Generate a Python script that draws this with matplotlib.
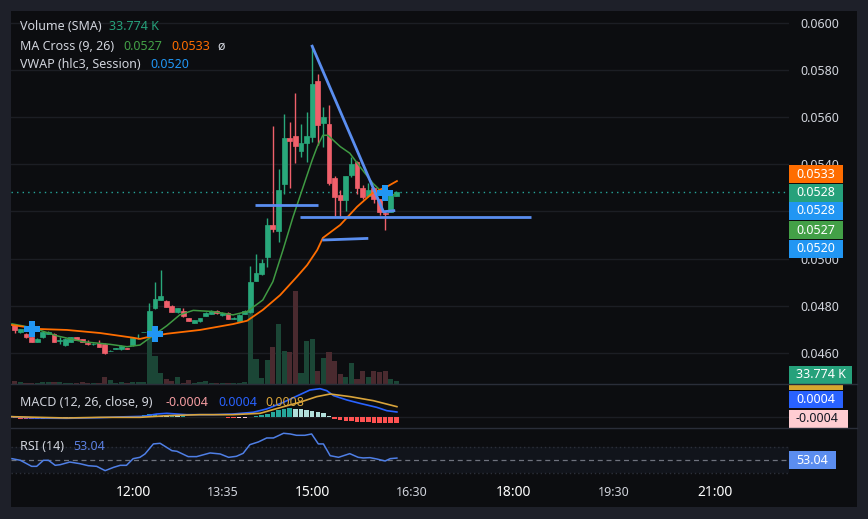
import matplotlib
matplotlib.use("Agg")
import matplotlib.pyplot as plt
from matplotlib.patches import Rectangle
from matplotlib.transforms import blended_transform_factory
import numpy as np

plt.rcParams['font.family'] = ['Noto Sans', 'DejaVu Sans']

# ---------------- data ----------------
opens = [0.04719, 0.04688, 0.04682, 0.04668, 0.04648, 0.04667, 0.04681, 0.04682, 0.04653, 0.04634,
         0.04648, 0.04667, 0.04659, 0.04642, 0.04638, 0.04642, 0.04639, 0.04608, 0.04619, 0.04617,
         0.04622, 0.04634, 0.04664, 0.04688, 0.04677, 0.04790, 0.04825, 0.04821, 0.04800, 0.04773,
         0.04780, 0.04748, 0.04728, 0.04737, 0.04759, 0.04767, 0.04779, 0.04760, 0.04770, 0.04746,
         0.04737, 0.04766, 0.04773, 0.04907, 0.04935, 0.05008, 0.05143, 0.05119, 0.05317, 0.05513,
         0.05520, 0.05458, 0.05489, 0.05517, 0.05753, 0.05575, 0.05571, 0.05341, 0.05270, 0.05249,
         0.05355, 0.05411, 0.05301, 0.05266, 0.05301, 0.05252, 0.05193, 0.05199, 0.05267]
highs = [0.04721, 0.04703, 0.04684, 0.04670, 0.04662, 0.04693, 0.04692, 0.04684, 0.04667, 0.04662,
         0.04669, 0.04669, 0.04661, 0.04654, 0.04642, 0.04654, 0.04641, 0.04612, 0.04623, 0.04634,
         0.04623, 0.04665, 0.04680, 0.04690, 0.04812, 0.04900, 0.04952, 0.04823, 0.04802, 0.04792,
         0.04791, 0.04750, 0.04742, 0.04750, 0.04773, 0.04781, 0.04781, 0.04772, 0.04772, 0.04752,
         0.04765, 0.04781, 0.04969, 0.05019, 0.04998, 0.05171, 0.05562, 0.05380, 0.05613, 0.05579,
         0.05703, 0.05571, 0.05622, 0.05906, 0.05783, 0.05643, 0.05651, 0.05350, 0.05291, 0.05352,
         0.05430, 0.05413, 0.05312, 0.05322, 0.05303, 0.05254, 0.05199, 0.05272, 0.05286]
lows = [0.04684, 0.04686, 0.04665, 0.04646, 0.04646, 0.04665, 0.04679, 0.04646, 0.04640, 0.04630,
        0.04646, 0.04655, 0.04646, 0.04635, 0.04636, 0.04625, 0.04597, 0.04607, 0.04618, 0.04615,
        0.04618, 0.04632, 0.04660, 0.04688, 0.04675, 0.04788, 0.04823, 0.04795, 0.04772, 0.04771,
        0.04755, 0.04734, 0.04726, 0.04733, 0.04757, 0.04765, 0.04767, 0.04758, 0.04744, 0.04744,
        0.04735, 0.04764, 0.04771, 0.04905, 0.04933, 0.04964, 0.05111, 0.05072, 0.05274, 0.05301,
        0.05404, 0.05432, 0.05411, 0.05496, 0.05482, 0.05472, 0.05312, 0.05181, 0.05181, 0.05204,
        0.05348, 0.05273, 0.05254, 0.05260, 0.05235, 0.05185, 0.05122, 0.05197, 0.05265]
closes = [0.04698, 0.04701, 0.04667, 0.04648, 0.04660, 0.04691, 0.04690, 0.04648, 0.04657, 0.04660,
          0.04667, 0.04657, 0.04648, 0.04637, 0.04640, 0.04627, 0.04599, 0.04610, 0.04621, 0.04632,
          0.04619, 0.04663, 0.04666, 0.04690, 0.04779, 0.04828, 0.04842, 0.04797, 0.04774, 0.04790,
          0.04757, 0.04736, 0.04740, 0.04748, 0.04771, 0.04779, 0.04769, 0.04770, 0.04746, 0.04750,
          0.04763, 0.04779, 0.04901, 0.04941, 0.04983, 0.05143, 0.05126, 0.05291, 0.05513, 0.05500,
          0.05479, 0.05489, 0.05520, 0.05740, 0.05568, 0.05599, 0.05320, 0.05260, 0.05249, 0.05350,
          0.05401, 0.05298, 0.05260, 0.05291, 0.05252, 0.05199, 0.05188, 0.05270, 0.05284]
volumes_k = [34, 23, 11, 11, 11, 23, 23, 23, 23, 11,
             11, 11, 23, 11, 11, 11, 79, 45, 11, 23,
             11, 23, 23, 23, 552, 315, 124, 56, 34, 79,
             11, 45, 11, 23, 34, 11, 11, 11, 11, 11,
             11, 23, 811, 282, 68, 270, 417, 676, 372, 360,
             1047, 124, 484, 507, 146, 293, 360, 259, 113, 79,
             236, 56, 146, 79, 146, 135, 146, 56, 33.774]

ma9_idx = [-0.5, 3.2, 7.5, 12.2, 17.0, 20.0, 22.3, 24.1, 27.1, 29.4, 31.8, 35.3, 38.9, 41.4, 44.2,
           46.0, 47.8, 49.6, 51.4, 53.0, 53.9, 54.9, 55.8, 58.0, 59.7, 61.5, 63.8, 65.6, 67.8]
ma9_val = [0.04724, 0.04707, 0.04673, 0.04648, 0.04637, 0.04627, 0.04634, 0.04665, 0.04716, 0.04762,
           0.04781, 0.04776, 0.04762, 0.04776, 0.04825, 0.04903, 0.05037, 0.05178, 0.05305, 0.05418,
           0.05475, 0.05523, 0.05523, 0.05475, 0.05447, 0.05390, 0.05320, 0.05279, 0.05270]
ma26_idx = [-0.5, 4.5, 9.3, 15.2, 21.1, 22.3, 24.1, 27.1, 33.0, 38.9, 41.4, 44.2, 47.3, 50.3, 52.1,
            53.9, 54.9, 58.0, 61.0, 63.8, 66.3, 68.1]
ma26_val = [0.04719, 0.04702, 0.04698, 0.04685, 0.04665, 0.04660, 0.04670, 0.04682, 0.04698, 0.04723,
            0.04737, 0.04783, 0.04846, 0.04924, 0.04973, 0.05037, 0.05088, 0.05143, 0.05220, 0.05279,
            0.05305, 0.05329]
cross_idx = [3.15, 25.0, 66.0]
cross_val = [0.04704, 0.04681, 0.05279]

trend_x = [52.9, 65.7, 67.8]
trend_y = [0.05906, 0.05199, 0.05204]
hline1_x = [42.8, 54.1]
hline1_y = [0.05229, 0.05229]
hline2_x = [50.8, 92.0]
hline2_y = [0.05178, 0.05178]
hline3_x = [54.8, 63.0]
hline3_y = [0.05079, 0.05086]

macd_idx = [-0.56, 3.3, 9.2, 15.2, 18.2, 22.9, 25.3, 27.1, 30.6, 35.4, 38.9, 42.5, 44.9, 47.9, 50.8,
            52.6, 54.4, 55.6, 56.8, 59.2, 61.5, 64.5, 66.3, 68.1]
macd_val = [0.5, -0.5, -0.75, -0.25, 0.25, 0.75, 2.5, 3.0, 2.0, 2.0, 2.5, 3.8, 6.3, 11.3, 17.0,
            20.5, 21.5, 20.0, 16.3, 13.0, 10.5, 7.5, 5.0, 4.0]
signal_idx = [-0.56, 9.2, 15.2, 22.3, 27.1, 33.0, 38.9, 43.7, 47.9, 50.8, 53.8, 56.2, 59.8, 63.9, 68.1]
signal_val = [0.5, -0.5, 0.0, 0.0, 1.25, 2.0, 2.0, 3.0, 8.0, 11.3, 15.5, 17.5, 15.5, 12.5, 8.0]
hist_val = [-0.8, -1.0, -1.2, -1.5, -1.5,
            -1.0, -0.8, -0.7, -0.7, -0.6, -0.5, -0.5, -0.5, -0.4,
            0.3, 0.4, 0.5, 0.5, 0.6, 0.6, 0.7, 0.8, 1.0,
            2.0, 2.5, 2.5,
            1.0, 0.8, 0.8, 0.7, 0.7, 0.6, 0.6, 0.5, 0.5, 0.5, 0.4,
            0.2,
            -0.6, -0.7, -0.6, -0.4,
            0.5, 1.0, 1.5,
            2.5, 4.0, 5.5, 6.5, 6.8,
            6.5, 6.0, 5.5, 5.0, 4.0, 3.0,
            1.0,
            -1.5, -2.0, -2.5, -3.0, -3.3, -3.5, -3.8, -4.0, -4.0, -4.2, -4.3, -4.5]

rsi_idx = [-0.5, 1.0, 3.0, 3.9, 5.1, 6.0, 7.2, 8.1, 9.8, 11.6, 13.1, 14.6, 16.1, 17.6, 18.8, 19.9,
           21.1, 22.3, 23.2, 24.7, 25.9, 28.0, 28.9, 30.9, 32.4, 34.8, 36.6, 38.1, 39.5, 40.7, 41.9,
           43.4, 44.9, 46.1, 47.9, 49.1, 50.2, 51.7, 52.9, 54.1, 55.0, 56.2, 57.7, 59.7, 61.2, 62.1,
           63.3, 64.5, 66.0, 66.9, 68.1]
rsi_val = [52.1, 49.5, 40.0, 40.0, 49.5, 49.5, 41.6, 42.6, 46.8, 44.2, 41.0, 40.0, 33.2, 38.4, 41.6,
           41.6, 52.1, 54.2, 59.5, 75.3, 76.3, 64.7, 63.7, 55.3, 55.3, 61.1, 59.5, 54.2, 55.8, 60.5,
           74.2, 78.4, 84.7, 84.7, 92.1, 91.0, 88.9, 88.9, 91.0, 75.3, 75.3, 56.8, 54.2, 60.0, 54.2,
           53.2, 53.7, 51.6, 48.4, 52.1, 53.04]

price_ticks = [0.0460, 0.0480, 0.0500, 0.0520, 0.0540, 0.0560, 0.0580, 0.0600]
time_pos = [21.1, 37.0, 53.0, 70.8, 88.8, 106.8, 124.8]
time_labels = ['12:00', '13:35', '15:00', '16:30', '18:00', '19:30', '21:00']
time_major = [True, False, True, False, True, False, True]

vwap_last = 0.0520
line_label = 0.0528
volume_label = '33.774 K'
macd_last, signal_last, hist_last = 0.0004, 0.0008, -0.0004

# ---------------- styling ----------------
W, H = 868, 519
BG = '#0c0d10'
FRAME = '#1e2029'
UP, DN = '#29a87b', '#f0606b'
VUP, VDN = '#1b4636', '#4a2a2f'
TXT = '#d1d4dc'
GRID = '#1c1e24'
SEP = '#2a2e39'
BLUE_DRAW = '#5a8ef0'

fig = plt.figure(figsize=(W / 100, H / 100), dpi=100)
fig.patch.set_facecolor(FRAME)


def rect(l, t, r, b):
    return [l / W, 1 - b / H, (r - l) / W, (b - t) / H]


# chart background
bgax = fig.add_axes(rect(11, 11, 857, 507))
bgax.set_facecolor(BG)
bgax.set_xticks([])
bgax.set_yticks([])
for s in bgax.spines.values():
    s.set_visible(False)
bgax.set_zorder(-5)

XL = (-0.677, 137.98)
n = len(closes)
x = np.arange(n)


def clean(ax):
    ax.set_facecolor('none')
    for s in ax.spines.values():
        s.set_visible(False)
    ax.set_xlim(*XL)
    ax.set_xticks([])
    ax.tick_params(axis='both', length=0)


# volume axes (bottom layer)
vax = fig.add_axes(rect(11, 11, 789, 384))
clean(vax)
vax.set_yticks([])
vax.set_ylim(0, 4200)
vax.set_zorder(1)

# price axes
pax = fig.add_axes(rect(11, 11, 789, 384))
clean(pax)
pax.set_ylim(0.044690, 0.060496)
pax.set_zorder(2)

# gridlines drawn under volume bars, in price coordinates
gtr = blended_transform_factory(vax.transAxes, pax.transData)
for pt in price_ticks:
    vax.plot([0, 1], [pt, pt], transform=gtr, color=GRID, lw=1, zorder=0)

vcols = [VUP if c >= o else VDN for o, c in zip(opens, closes)]
vax.bar(x, volumes_k, width=0.92, color=vcols, linewidth=0, zorder=1)

# candles
ccols = [UP if c >= o else DN for o, c in zip(opens, closes)]
pax.vlines(x, lows, highs, colors=ccols, lw=1, zorder=3)
bodies = [c - o for o, c in zip(opens, closes)]
pax.bar(x, bodies, bottom=opens, width=0.86, color=ccols, edgecolor=ccols, linewidth=0.5, zorder=4)

# MA lines
pax.plot(ma9_idx, ma9_val, color='#3f9a43', lw=1.1, zorder=5)
pax.plot(ma26_idx, ma26_val, color='#ff6d00', lw=1.3, zorder=5)
pax.plot(cross_idx, cross_val, ls='none', marker='P', ms=11, color='#2196f3', mew=0, zorder=7)

# current price dotted line
pax.axhline(closes[-1], color='#26a69a', lw=1, ls=(0, (1, 3)), zorder=2)

# drawings
for xs, ys in [(trend_x, trend_y), (hline1_x, hline1_y), (hline2_x, hline2_y), (hline3_x, hline3_y)]:
    pax.plot(xs, ys, color=BLUE_DRAW, lw=2, zorder=6, solid_capstyle='butt')

# price scale
pax.yaxis.tick_right()
pax.set_yticks(price_ticks)
pax.set_yticklabels([f'{v:.4f}' for v in price_ticks])
pax.tick_params(axis='y', length=0, pad=8, labelsize=9, labelcolor=TXT)

# MACD
max_ = fig.add_axes(rect(11, 384, 789, 428))
clean(max_)
max_.set_yticks([])
max_.set_ylim(-8.0, 25.0)
max_.axhline(0, color=GRID, lw=1, zorder=0)
hcols = []
for i, h in enumerate(hist_val):
    prev = hist_val[i - 1] if i > 0 else h
    if h >= 0:
        hcols.append('#26a69a' if h >= prev else '#b2dfdb')
    else:
        hcols.append('#ff5252' if h <= prev else '#ffcdd2')
max_.bar(x, hist_val, width=0.8, color=hcols, linewidth=0, zorder=2)
max_.plot(macd_idx, macd_val, color='#2962ff', lw=1.2, zorder=3)
max_.plot(signal_idx, signal_val, color='#d9a43b', lw=1.2, zorder=3)

# RSI
rax = fig.add_axes(rect(11, 428, 789, 477))
clean(rax)
rax.set_yticks([])
rax.set_ylim(23.2, 100.4)
rax.axhspan(30, 70, color='#11141b', zorder=0, lw=0)
rax.axhline(70, color='#2c303a', lw=1, ls=(0, (1, 2)), zorder=1)
rax.axhline(30, color='#2c303a', lw=1, ls=(0, (1, 2)), zorder=1)
rax.axhline(50, color='#6f737e', lw=0.9, ls=(0, (4, 3)), zorder=1)
rax.plot(rsi_idx, rsi_val, color='#4f7fe6', lw=1.1, zorder=3)

# time axis
tax = fig.add_axes(rect(11, 477, 789, 507))
clean(tax)
tax.set_yticks([])
tax.set_ylim(0, 1)
for p, lab, major in zip(time_pos, time_labels, time_major):
    tax.text(p, 0.5, lab, ha='center', va='center', color='white' if major else TXT,
             fontsize=10 if major else 9, fontweight='bold' if major else 'normal')

# overlay (pixel coords) for legends, separators and price labels
ov = fig.add_axes([0, 0, 1, 1])
ov.set_xlim(0, W)
ov.set_ylim(H, 0)
ov.axis('off')
ov.set_zorder(10)

for yy in (384, 428):
    ov.plot([11, 857], [yy, yy], color=SEP, lw=1)


def legend_row(y, parts):
    for xx, s, c in parts:
        ov.text(xx, y, s, color=c, fontsize=9, va='center', ha='left')


legend_row(27, [(20, 'Volume (SMA)', TXT), (109, volume_label, '#26a17b')])
legend_row(46, [(20, 'MA Cross (9, 26)', TXT), (123, f'{ma9_val[-1]:.4f}', '#43a047'),
                (171, f'{ma26_val[-1]:.4f}', '#ff6d00'), (217, 'ø', TXT)])
legend_row(65, [(20, 'VWAP (hlc3, Session)', TXT), (150, f'{vwap_last:.4f}', '#2196f3')])
legend_row(402, [(20, 'MACD (12, 26, close, 9)', TXT), (166, f'{hist_last:.4f}', '#f49ca1'),
                 (218, f'{macd_last:.4f}', '#2962ff'), (265, f'{signal_last:.4f}', '#d9a43b')])
legend_row(446, [(20, 'RSI (14)', TXT), (73, f'{rsi_val[-1]:.2f}', '#5b7fe0')])


def label_box(yc, text, bg, fg='white', width=54, h=18, ytop=None, ybot=None):
    t = yc - h / 2 if ytop is None else ytop
    b = yc + h / 2 if ybot is None else ybot
    ov.add_patch(Rectangle((789, t), width, b - t, facecolor=bg, edgecolor='none'))
    if text:
        ov.text(796, yc, text, color=fg, fontsize=9, va='center', ha='left')


label_box(174, f'{ma26_val[-1]:.4f}', '#ff6d00')
label_box(192.5, f'{closes[-1]:.4f}', '#26a17b')
label_box(211, f'{line_label:.4f}', '#2196f3')
label_box(230, f'{ma9_val[-1]:.4f}', '#43a047')
label_box(249, f'{vwap_last:.4f}', '#2196f3')
label_box(375, volume_label, '#26a17b', width=63, ybot=383.5)
label_box(387, '', '#d6a630', ytop=384.5, ybot=390)
label_box(399.5, f'{macd_last:.4f}', '#2962ff', ytop=391, ybot=408)
label_box(419, f'{hist_last:.4f}', '#ffcdd2', fg='#131722', width=59, ytop=410, ybot=428)
label_box(460, f'{rsi_val[-1]:.2f}', '#5b8def', width=47)

fig.savefig('out.png', dpi=100, facecolor=FRAME)
